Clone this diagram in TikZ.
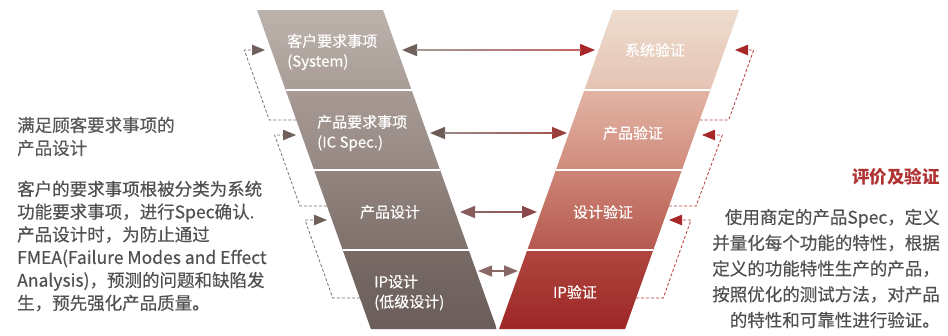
\documentclass[tikz,border=0pt]{standalone}
\usepackage{fontspec}
\setmainfont{Noto Sans CJK SC}
\newfontfamily\medfont{Noto Sans CJK SC}[FakeBold=0.35]
\usetikzlibrary{arrows.meta,calc}
\definecolor{txtgrey}{HTML}{505050}
\definecolor{headgrey}{HTML}{585858}
\definecolor{headred}{HTML}{B03232}
\definecolor{dashL}{HTML}{7E706B}
\definecolor{dashR}{HTML}{B43A3A}
\definecolor{headL}{HTML}{6F605B}
\definecolor{headR}{HTML}{A8282A}
% band colours
\definecolor{la1}{HTML}{BCB2AC}\definecolor{lb1}{HTML}{A99C96}
\definecolor{la2}{HTML}{A79A94}\definecolor{lb2}{HTML}{968983}
\definecolor{la3}{HTML}{938580}\definecolor{lb3}{HTML}{7E706B}
\definecolor{la4}{HTML}{786B66}\definecolor{lb4}{HTML}{6B5E5A}
\definecolor{ra1}{HTML}{EDDCCE}\definecolor{rb1}{HTML}{E5C3B4}
\definecolor{ra2}{HTML}{E2B4A4}\definecolor{rb2}{HTML}{D08B7C}
\definecolor{ra3}{HTML}{CE8577}\definecolor{rb3}{HTML}{B5594F}
\definecolor{ra4}{HTML}{AE463E}\definecolor{rb4}{HTML}{9E2727}
% arrow colours
\definecolor{a1l}{HTML}{6F605B}\definecolor{a1r}{HTML}{A8282A}
\definecolor{a1la}{HTML}{A39894}\definecolor{a1ra}{HTML}{C46666}
\definecolor{a2l}{HTML}{6F5C58}\definecolor{a2r}{HTML}{9B3F3D}
\definecolor{a2la}{HTML}{988A86}\definecolor{a2ra}{HTML}{A45454}
\definecolor{a3l}{HTML}{875A5A}\definecolor{a3r}{HTML}{8A4848}
\definecolor{a3la}{HTML}{8C6464}\definecolor{a3ra}{HTML}{8E5A5A}
\definecolor{a4c}{HTML}{8A6868}
\tikzset{
  bandlabel/.style={text=white, font=\medfont\fontsize{15}{20}\selectfont, inner sep=0pt},
  sidetext/.style={text=txtgrey, font=\medfont\fontsize{17.5}{23}\selectfont, inner sep=0pt},
  feedL/.style={draw=dashL, line width=0.8pt, dash pattern=on 3pt off 2pt, -{Triangle[length=13pt,width=10.5pt,color=headL]}},
  feedR/.style={draw=dashR, line width=0.8pt, dash pattern=on 3pt off 2pt, -{Triangle[length=13pt,width=10.5pt,color=headR]}},
  sep/.style={draw=white, line width=1.5pt},
  linkarrow/.style={line width=1.5pt},
}
\begin{document}
\begin{tikzpicture}[x=1pt,y=-1pt]
\useasboundingbox (0,0) rectangle (948,335);
\fill[white] (0,0) rectangle (948,335);

% ---------- left band (design) ----------
\shade[top color=la1, bottom color=lb1] (257,10) -- (383,10) -- (411.6,90) -- (285.6,90) -- cycle;
\shade[top color=la2, bottom color=lb2] (285.6,90) -- (411.6,90) -- (440.1,170) -- (314.1,170) -- cycle;
\shade[top color=la3, bottom color=lb3] (314.1,170) -- (440.1,170) -- (468.7,250) -- (342.7,250) -- cycle;
\shade[top color=la4, bottom color=lb4] (342.7,250) -- (468.7,250) -- (496.9,329) -- (370.9,329) -- cycle;
\draw[sep] (285.6,90) -- (411.6,90);
\draw[sep] (314.1,170) -- (440.1,170);
\draw[sep] (342.7,250) -- (468.7,250);

% ---------- right band (verification) ----------
\shade[top color=ra1, bottom color=rb1] (613,10) -- (739,10) -- (710.4,90) -- (584.4,90) -- cycle;
\shade[top color=ra2, bottom color=rb2] (584.4,90) -- (710.4,90) -- (681.9,170) -- (555.9,170) -- cycle;
\shade[top color=ra3, bottom color=rb3] (555.9,170) -- (681.9,170) -- (653.3,250) -- (527.3,250) -- cycle;
\shade[top color=ra4, bottom color=rb4] (527.3,250) -- (653.3,250) -- (625.1,329) -- (499.1,329) -- cycle;
\draw[sep] (584.4,90) -- (710.4,90);
\draw[sep] (555.9,170) -- (681.9,170);
\draw[sep] (527.3,250) -- (653.3,250);

% ---------- band labels ----------
\node[bandlabel, anchor=west, align=left] (l1) at (287,52) {客户要求事项\\(System)};
\node[bandlabel, anchor=west, align=left] (l2) at (317,133) {产品要求事项\\(IC Spec.)};
\node[bandlabel] (l3) at (390,212) {产品设计};
\node[bandlabel, anchor=west, align=left] (l4) at (374,292.5) {IP设计\\(低级设计)};
\node[bandlabel] (r1) at (655,50) {系统验证};
\node[bandlabel] (r2) at (633,133) {产品验证};
\node[bandlabel] (r3) at (603,212) {设计验证};
\node[bandlabel] (r4) at (575,292) {IP验证};

% ---------- horizontal link arrows ----------
\coordinate (h1l) at (402,50);  \coordinate (h1r) at (595,50);
\coordinate (h2l) at (430,133); \coordinate (h2r) at (567,133);
\coordinate (h3l) at (460,212); \coordinate (h3r) at (537,212);
\coordinate (h4l) at (478,271); \coordinate (h4r) at (518,271);

\draw[linkarrow, a1la, {Triangle[length=15pt,width=12pt,color=a1l]}-{Triangle[length=15pt,width=12pt,color=a1r]}] (h1l) -- (h1r);
\shade[left color=a1la, right color=a1ra] ($(h1l)+(14,-0.75)$) rectangle ($(h1r)+(-14,0.75)$);
\draw[linkarrow, a2la, {Triangle[length=15pt,width=12pt,color=a2l]}-{Triangle[length=15pt,width=12pt,color=a2r]}] (h2l) -- (h2r);
\shade[left color=a2la, right color=a2ra] ($(h2l)+(14,-0.75)$) rectangle ($(h2r)+(-14,0.75)$);
\draw[linkarrow, a3la, {Triangle[length=15pt,width=12pt,color=a3l]}-{Triangle[length=15pt,width=12pt,color=a3r]}] (h3l) -- (h3r);
\shade[left color=a3la, right color=a3ra] ($(h3l)+(14,-0.75)$) rectangle ($(h3r)+(-14,0.75)$);
\draw[linkarrow, a4c, {Triangle[length=14pt,width=11pt]}-{Triangle[length=14pt,width=11pt]}] (h4l) -- (h4r);

% ---------- left feedback (dashed) ----------
\coordinate (dl1s) at (296.3,120); \coordinate (dl1a) at (269.3,120); \coordinate (dl1b) at (244.3,50); \coordinate (dl1t) at (265,50);
\coordinate (dl2s) at (327,206);   \coordinate (dl2a) at (300,206);   \coordinate (dl2b) at (274.6,135); \coordinate (dl2t) at (296,135);
\coordinate (dl3s) at (359.8,298); \coordinate (dl3a) at (332.8,298); \coordinate (dl3b) at (305,220); \coordinate (dl3t) at (327,220);
\draw[feedL] (dl1s) -- (dl1a) -- (dl1b) -- (dl1t);
\draw[feedL] (dl2s) -- (dl2a) -- (dl2b) -- (dl2t);
\draw[feedL] (dl3s) -- (dl3a) -- (dl3b) -- (dl3t);

% ---------- right feedback (dashed) ----------
\coordinate (dr1s) at (699.7,120); \coordinate (dr1a) at (728.7,120); \coordinate (dr1b) at (753.7,50); \coordinate (dr1t) at (735,50);
\coordinate (dr2s) at (669,206);   \coordinate (dr2a) at (696,206);   \coordinate (dr2b) at (722.4,135); \coordinate (dr2t) at (702,135);
\coordinate (dr3s) at (636.2,298); \coordinate (dr3a) at (663.2,298); \coordinate (dr3b) at (691,220); \coordinate (dr3t) at (669,220);
\draw[feedR] (dr1s) -- (dr1a) -- (dr1b) -- (dr1t);
\draw[feedR] (dr2s) -- (dr2a) -- (dr2b) -- (dr2t);
\draw[feedR] (dr3s) -- (dr3a) -- (dr3b) -- (dr3t);

% ---------- left text ----------
\node[sidetext, text=headgrey, anchor=west, align=left] (lhead) at (17,136.5) {满足顾客要求事项的\\产品设计};
\node[sidetext, anchor=west, align=left, font=\medfont\fontsize{17.5}{22.8}\selectfont] (lbody) at (17,246)
  {客户的要求事项根被分类为系统\\功能要求事项，进行Spec确认.\\产品设计时，为防止通过\\FMEA(Failure Modes and Effect\\Analysis)，预测的问题和缺陷发\\生，预先强化产品质量。};

% ---------- right text ----------
\node[sidetext, text=headred, anchor=east, font=\fontsize{17.5}{23}\selectfont\bfseries] (rhead) at (940,177) {评价及验证};
\node[sidetext, anchor=east, align=right, font=\medfont\fontsize{17.5}{25.75}\selectfont] (rbody) at (940,268.5)
  {使用商定的产品Spec，定义\\并量化每个功能的特性，根据\\定义的功能特性生产的产品，\\按照优化的测试方法，对产品\\的特性和可靠性进行验证。};
\end{tikzpicture}
\end{document}
